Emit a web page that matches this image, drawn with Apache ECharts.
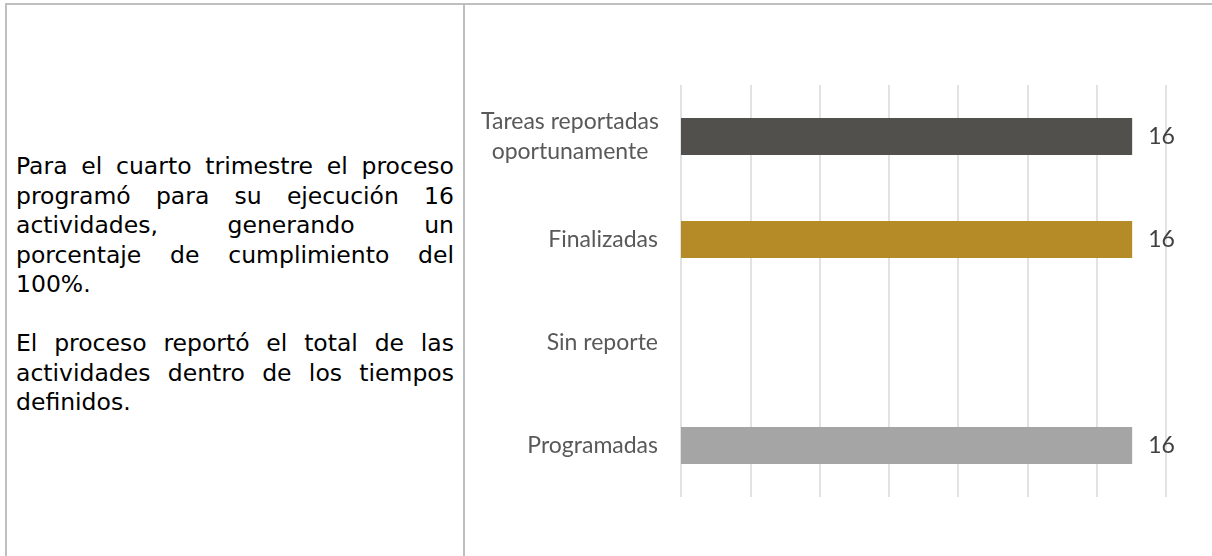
<!DOCTYPE html>
<html>
<head>
<meta charset="utf-8">
<script src="https://cdn.jsdelivr.net/npm/echarts@6/dist/echarts.min.js"></script>
<style>
  html, body { margin: 0; padding: 0; background: #fff; }
  body { width: 1212px; height: 556px; position: relative; overflow: hidden; }
  .line { position: absolute; background: #bfbfbf; }
  #texto {
    position: absolute; left: 16px; top: 152px; width: 438px;
    font-family: "DejaVu Sans", Verdana, sans-serif; font-size: 23.5px;
    line-height: 29.5px; color: #000; text-align: justify;
  }
  #texto p { margin: 0 0 29.5px 0; }
  #id-chart { position: absolute; left: 466px; top: 0; width: 746px; height: 556px; }
</style>
</head>
<body>
<div class="line" style="left:5px;top:3px;width:1207px;height:2px"></div>
<div class="line" style="left:5px;top:3px;width:2px;height:553px"></div>
<div class="line" style="left:463px;top:3px;width:2px;height:553px"></div>
<div id="texto">
  <p>Para el cuarto trimestre el proceso programó para su ejecución 16 actividades, generando un porcentaje de cumplimiento del 100%.</p>
  <p>El proceso reportó el total de las actividades dentro de los tiempos definidos.</p>
</div>
<div id="id-chart"></div>
<script>
// categorias de abajo hacia arriba
const categorias = ['Programadas', 'Sin reporte', 'Finalizadas', 'Tareas reportadas oportunamente'];
const valores = [16, null, 16, 16];
const colores = ['#a5a5a5', '#a5a5a5', '#b58b28', '#52504d'];

let chart = echarts.init(document.getElementById('id-chart'));
let data = [];
for (let i = 0; i < valores.length; i++) {
  data.push({ value: valores[i], itemStyle: { color: colores[i] } });
}
const maxX = 17.2;
const fuente = 'Lato, "Open Sans", sans-serif';
chart.setOption({
  animation: false,
  grid: { left: 215, right: 46, top: 85, bottom: 59 },
  xAxis: {
    type: 'value',
    min: 0,
    max: maxX,
    interval: maxX / 7,
    axisLabel: { show: false },
    axisLine: { show: false },
    axisTick: { show: false },
    splitLine: { lineStyle: { color: '#d9d9d9', width: 1.5 } }
  },
  yAxis: {
    type: 'category',
    data: categorias,
    axisLine: { show: false },
    axisTick: { show: false },
    axisLabel: {
      margin: 23,
      color: '#595959',
      fontSize: 23,
      fontFamily: fuente,
      lineHeight: 30,
      formatter: function (v) {
        if (v === 'Tareas reportadas oportunamente') {
          return '{c|Tareas reportadas}\n{c|oportunamente}';
        }
        return v;
      },
      rich: {
        c: { width: 176, align: 'center', color: '#595959', fontSize: 23, lineHeight: 30,
             fontFamily: fuente }
      }
    }
  },
  series: [{
    type: 'bar',
    barWidth: 37,
    data: data,
    label: {
      show: true,
      position: 'right',
      distance: 16,
      color: '#404040',
      fontSize: 23,
      fontFamily: fuente
    }
  }]
});
</script>
</body>
</html>
